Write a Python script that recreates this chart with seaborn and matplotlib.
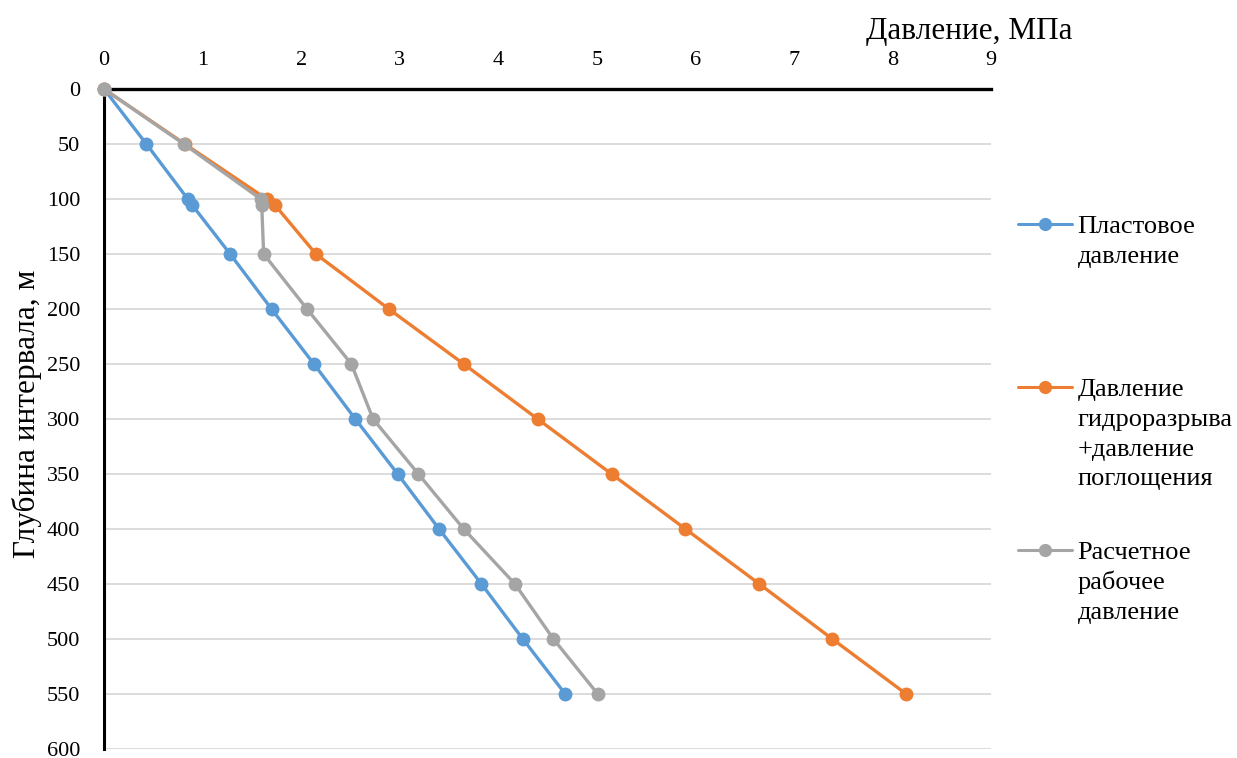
import matplotlib
matplotlib.use("Agg")
import matplotlib.pyplot as plt
from matplotlib.lines import Line2D
import seaborn as sns
import pandas as pd

# depth of interval, m
depth = [0, 50, 100, 105, 150, 200, 250, 300, 350, 400, 450, 500, 550]
# pressures, MPa
plast = [0, 0.43, 0.85, 0.89, 1.28, 1.70, 2.13, 2.55, 2.98, 3.40, 3.83, 4.25, 4.68]
gidro = [0, 0.82, 1.65, 1.73, 2.15, 2.89, 3.65, 4.40, 5.15, 5.90, 6.65, 7.39, 8.14]
raschet = [0, 0.81, 1.59, 1.60, 1.62, 2.06, 2.51, 2.73, 3.19, 3.65, 4.17, 4.56, 5.01]

series_names = ["Пластовое\nдавление",
                "Давление\nгидроразрыва\n+давление\nпоглощения",
                "Расчетное\nрабочее\nдавление"]
colors = ["#5B9BD5", "#ED7D31", "#A5A5A5"]
x_ticks = list(range(0, 10))
y_ticks = list(range(0, 601, 50))

sns.set_style("white")
plt.rcParams["font.family"] = ["Liberation Serif", "DejaVu Serif"]
plt.rcParams["text.color"] = "black"
plt.rcParams["axes.labelcolor"] = "black"

fig = plt.figure(figsize=(12.37, 7.58), dpi=100)
ax = fig.add_axes([104 / 1237, 9 / 758, 887 / 1237, 660 / 758])

for vals, col in zip([plast, gidro, raschet], colors):
    df = pd.DataFrame({"p": vals, "h": depth})
    sns.lineplot(data=df, x="p", y="h", sort=False, estimator=None, color=col,
                 linewidth=2.4, marker="o", markersize=10, markeredgewidth=0,
                 ax=ax, clip_on=False, zorder=3)

ax.set_xlim(0, 9)
ax.set_ylim(600, 0)
ax.set_xticks(x_ticks)
ax.set_yticks(y_ticks)
ax.xaxis.tick_top()
ax.xaxis.set_label_position("top")
ax.tick_params(axis="both", length=0, labelsize=16, colors="black")
ax.tick_params(axis="x", pad=14)
ax.tick_params(axis="y", pad=17)

ax.grid(axis="y", color="#d9d9d9", linewidth=1.3)
ax.grid(axis="x", visible=False)
for s in ["right", "bottom"]:
    ax.spines[s].set_visible(False)
ax.spines["top"].set_linewidth(2.4)
ax.spines["top"].set_color("black")
ax.spines["top"].set_zorder(2.5)
ax.spines["left"].set_linewidth(2.2)
ax.spines["left"].set_color("black")

ax.set_xlabel("Давление, МПа", fontsize=22.5)
ax.xaxis.set_label_coords(0.976, 1.075)
ax.set_ylabel("Глубина интервала, м", fontsize=22.5)
ax.yaxis.set_label_coords(-0.07, 0.508)

# legend: one group per series, handle beside the first text line
legend_tops = [215 / 758, 378 / 758, 541 / 758]
for name, col, top in zip(series_names, colors, legend_tops):
    lines = name.split("\n")
    handles = [Line2D([], [], color=col, linewidth=2.2, marker="o", markersize=9.5,
                      markeredgewidth=0)]
    handles += [Line2D([], [], linestyle="none")] * (len(lines) - 1)
    leg = fig.legend(handles, lines, loc="upper left",
                     bbox_to_anchor=(1018 / 1237, 1 - top), frameon=False,
                     fontsize=19, handlelength=2.05, handletextpad=0.2,
                     labelspacing=0.23, borderpad=0, borderaxespad=0)

fig.savefig("out.png", dpi=100)
